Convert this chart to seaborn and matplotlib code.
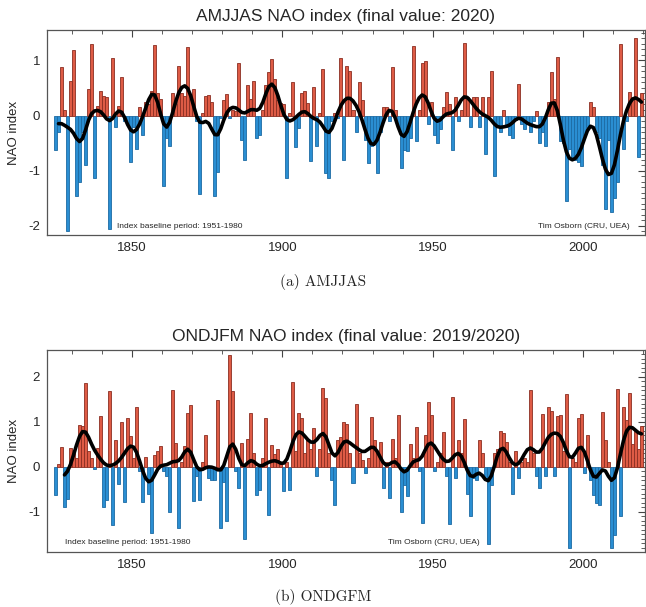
import numpy as np
import pandas as pd
import matplotlib
matplotlib.use("Agg")
import matplotlib.pyplot as plt
import seaborn as sns
from matplotlib.ticker import MultipleLocator

# ---------------- data ----------------
years = np.arange(1825, 2021)

amjjas = [
    -0.62, -0.30, 0.88, 0.10, -2.10, 0.62,
    1.18, -1.45, -1.20, -0.30, -0.90, 0.48, 1.30, -1.13, 0.18, 0.45,
    0.35, 0.33, -2.05, 1.05, -0.20, 0.17, 0.70, -0.10, -0.15, -0.85,
    -0.20, -0.60, 0.15, -0.35, 0.25, 0.20, 0.45, 1.27, 0.40, 0.30,
    -1.27, -0.40, -0.55, 0.40, 0.20, 0.90, 0.40, 0.35, 1.24, 0.30,
    0.48, -0.10, -1.43, 0.05, 0.36, 0.37, 0.25, -1.45, -1.02, -0.05,
    0.28, 0.39, -0.05, 0.10, 0.08, 0.95, -0.44, -0.80, 0.55, 0.30,
    0.63, -0.41, -0.35, 0.10, 0.55, 0.79, 1.03, 0.67, 0.28, 0.22,
    0.20, -1.13, 0.05, 0.60, -0.57, -0.23, 0.40, 0.45, 0.22, -0.83,
    0.52, -0.55, 0.05, 0.85, -1.04, -1.13, -0.10, 0.05, -0.05, 1.05,
    -0.80, 0.90, 0.80, 0.10, -0.29, 0.60, 0.28, -0.44, -0.86, -0.55,
    -0.50, -1.04, -0.30, 0.15, 0.15, -0.10, 0.88, 0.10, -0.20, -0.95,
    -0.62, -0.65, -0.40, 1.26, -0.47, 0.10, 0.95, 0.99, -0.15, 0.25,
    -0.35, -0.50, -0.25, 0.15, 0.43, 0.20, -0.62, 0.33, -0.10, 0.10,
    1.31, 0.33, -0.20, 0.33, 0.33, -0.20, 0.33, -0.70, 0.33, 0.80,
    -1.10, -0.20, -0.30, 0.10, -0.20, -0.35, -0.40, -0.08, 0.58, -0.15,
    -0.25, -0.15, -0.30, -0.10, 0.08, -0.50, -0.30, -0.56, 0.25, 0.79,
    0.30, 1.06, -0.47, -0.50, -1.55, -0.60, -0.80, -0.80, -0.85, -0.92,
    -0.35, -0.20, 0.25, 0.16, -0.30, -0.40, -0.90, -1.70, -0.45, -1.75,
    -1.50, -1.20, 1.30, -0.60, -0.10, 0.43, 0.30, 1.40, -0.75, 0.40,
]

ondjfm = [
    -0.63, 0.05, 0.44, -0.89, -0.73, 0.41,
    0.30, 0.20, 0.93, 0.90, 1.85, 0.35, 0.20, -0.05, 0.41, 1.13,
    -0.89, -0.74, 1.67, -1.30, 0.60, -0.39, 0.98, -0.78, 1.07, 0.67,
    0.20, 1.33, -0.10, -0.78, 0.22, -0.60, -1.48, 0.26, 0.35, 0.45,
    -0.10, -0.20, -1.00, 1.70, 0.52, -1.37, 0.10, 0.45, 1.18, 1.37,
    -0.76, -0.20, -0.74, 0.10, 0.69, -0.25, -0.30, -0.30, 1.48, -1.37,
    -0.35, -1.22, 2.48, 1.67, -0.10, -0.48, 0.52, -1.61, 0.61, 1.20,
    0.30, -0.63, -0.52, 0.20, 1.07, -1.07, 0.48, 0.28, 0.40, 0.10,
    -0.55, 0.10, -0.53, 1.87, 0.35, 1.18, 1.07, 0.30, 0.60, 0.40,
    0.85, -0.20, 0.40, 1.74, 1.52, 0.30, -0.30, -0.85, 0.60, 0.65,
    0.98, 0.95, 0.30, -0.37, 1.40, 0.30, 0.15, -0.15, 0.20, 1.09,
    0.60, 0.30, 0.55, -0.48, 0.10, -0.70, 0.62, 0.20, 1.15, -1.02,
    -0.40, -0.65, 0.50, 0.20, 0.87, -0.10, -1.26, 0.70, 1.44, 1.15,
    -0.10, 0.10, 0.30, 0.76, -0.20, -1.28, 1.54, -0.25, 0.60, 0.30,
    1.06, -0.60, -1.10, -0.25, -0.30, 0.58, 0.30, -0.30, -1.72, -0.40,
    0.30, 0.40, 0.78, 0.74, 0.55, 0.10, -0.60, 0.35, -0.25, 0.10,
    0.20, 0.10, 1.69, 0.30, -0.20, -0.48, 1.17, -0.20, 1.33, 1.24,
    -0.20, 1.13, 1.15, 0.35, 1.61, -1.81, 0.20, 0.10, 1.07, 1.17,
    -0.15, 0.70, -0.30, -0.63, -0.81, -0.85, 1.22, 0.60, 0.10, -1.81,
    -1.52, 1.72, -1.11, 1.33, 1.04, 1.63, 0.50, 0.80, 0.40, 0.90,
]

titles = ["AMJJAS NAO index (final value: 2020)",
          "ONDJFM NAO index (final value: 2019/2020)"]
captions = ["(a) AMJJAS", "(b) ONDGFM"]
note_left = "Index baseline period: 1951-1980"
note_right = "Tim Osborn (CRU, UEA)"

RED, RED_EDGE = "#de5b45", "#8a2e22"
BLUE, BLUE_EDGE = "#2a8ed2", "#1c6aa3"


def gauss_smooth(v, sigma=2.0):
    v = np.asarray(v, dtype=float)
    n = len(v)
    half = int(3 * sigma)
    k = np.arange(-half, half + 1)
    w = np.exp(-0.5 * (k / sigma) ** 2)
    out = np.empty(n)
    for i in range(n):
        lo, hi = max(0, i - half), min(n, i + half + 1)
        ww = w[lo - i + half:hi - i + half]
        out[i] = np.sum(ww * v[lo:hi]) / ww.sum()
    return out


sns.set_style("white")
plt.rcParams["font.family"] = ["Liberation Sans", "DejaVu Sans"]
plt.rcParams["axes.unicode_minus"] = False

W, H = 646, 607
fig = plt.figure(figsize=(W / 100, H / 100), dpi=100)


def fx(px):
    return px / W


def fy(py):
    return 1 - py / H


def panel(vals, top, bottom, ylim, title_y, cap_y, nl_x, nr_x, note_y, title, cap, start):
    ax = fig.add_axes([fx(47), fy(bottom), fx(645) - fx(47), fy(top) - fy(bottom)])
    vals = np.asarray(vals, dtype=float)
    df = pd.DataFrame({"x": years - 0.5, "v": vals,
                       "s": np.where(vals >= 0, "pos", "neg")})
    sns.barplot(data=df, x="x", y="v", hue="s", palette={"pos": RED, "neg": BLUE},
                native_scale=True, width=1.0, dodge=False, legend=False,
                errorbar=None, saturation=1, linewidth=0.6, ax=ax)
    for p in ax.patches:
        fc = p.get_facecolor()
        p.set_edgecolor(RED_EDGE if fc[0] > 0.6 else BLUE_EDGE)
    sm = gauss_smooth(vals, 2.0)
    sns.lineplot(x=years[start:] - 0.5, y=sm[start:], color="black", linewidth=2.6, ax=ax)

    ax.set_xlim(1821.67, 2020.67)
    ax.set_ylim(*ylim)
    ax.xaxis.set_major_locator(MultipleLocator(50))
    ax.xaxis.set_minor_locator(MultipleLocator(10))
    ax.yaxis.set_major_locator(MultipleLocator(1))
    ax.yaxis.set_minor_locator(MultipleLocator(0.1))
    ax.tick_params(which="both", direction="in", top=True, right=True,
                   color="#444444", labelsize=9.5, pad=5)
    ax.tick_params(which="major", length=5, width=0.8)
    ax.tick_params(which="minor", length=3, width=0.6)
    ax.set_xlabel("")
    ax.set_ylabel("NAO index", fontsize=9.5, labelpad=6)
    for s in ax.spines.values():
        s.set_color("#555555")
        s.set_linewidth(0.9)

    fig.text(fx(346), fy(title_y), title, ha="center", va="center", fontsize=12.5)
    fig.text(fx(323), fy(cap_y), cap, ha="center", va="center", fontsize=11,
             family="cmr10")
    fig.text(fx(nl_x), fy(note_y), note_left, ha="left", va="center", fontsize=6)
    fig.text(fx(nr_x), fy(note_y), note_right, ha="left", va="center", fontsize=6)
    return ax


panel(amjjas, 30, 235, (-2.165, 1.55), 17, 282, 117, 538, 226, titles[0], captions[0], 1)
panel(ondjfm, 350, 552, (-1.90, 2.59), 337, 597, 65, 388, 543, titles[1], captions[1], 3)

fig.savefig("out.png", dpi=100)
